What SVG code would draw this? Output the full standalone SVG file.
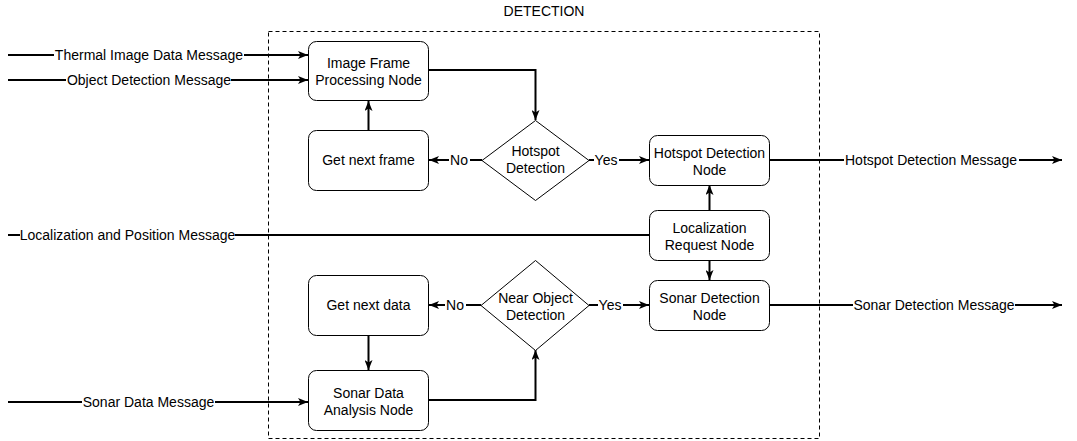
<svg xmlns="http://www.w3.org/2000/svg" width="1077" height="441" viewBox="0 0 1077 441">
<style>
text{font-family:"Liberation Sans",Arial,sans-serif;font-size:14px;fill:#000;text-anchor:middle}
.node{fill:#fff;stroke:#000;stroke-width:1}
.edge{fill:none;stroke:#000;stroke-width:2}
.lbl{fill:#fff;stroke:none}
</style>
<defs>
<marker id="arr" viewBox="0 0 10 8" refX="10" refY="4" markerWidth="10" markerHeight="8" markerUnits="userSpaceOnUse" orient="auto">
<path d="M0,0 L10,4 L0,8 L2.5,4 z" fill="#000"/>
</marker>
</defs>
<rect width="1077" height="441" fill="#fff"/>
<g id="container">
<rect x="268.5" y="31.5" width="551" height="407" fill="none" stroke="#000" stroke-width="1" stroke-dasharray="4,3"/>
<text x="544" y="16">DETECTION</text>
</g>
<g id="connectors">
<path class="edge" d="M8,55 L308,55" marker-end="url(#arr)"/>
<rect class="lbl" x="54" y="47" width="190" height="16"/>
<text x="149" y="60">Thermal Image Data Message</text>
<path class="edge" d="M8,80 L308,80" marker-end="url(#arr)"/>
<rect class="lbl" x="66" y="72" width="165" height="16"/>
<text x="149" y="85">Object Detection Message</text>
<path class="edge" d="M429,70 L535.5,70 L535.5,120" marker-end="url(#arr)"/>
<path class="edge" d="M368.5,130 L368.5,101" marker-end="url(#arr)"/>
<path class="edge" d="M482,160 L429,160" marker-end="url(#arr)"/>
<rect class="lbl" x="449" y="152" width="21" height="16"/>
<text x="459" y="165">No</text>
<path class="edge" d="M589,160 L649,160" marker-end="url(#arr)"/>
<rect class="lbl" x="594" y="152" width="25" height="16"/>
<text x="606" y="165">Yes</text>
<path class="edge" d="M770,160 L1062,160" marker-end="url(#arr)"/>
<rect class="lbl" x="844" y="152" width="175" height="16"/>
<text x="931" y="165">Hotspot Detection Message</text>
<path class="edge" d="M8,235 L649,235"/>
<rect class="lbl" x="20" y="227" width="215" height="16"/>
<text x="127.5" y="240">Localization and Position Message</text>
<path class="edge" d="M709.5,210 L709.5,185" marker-end="url(#arr)"/>
<path class="edge" d="M709.5,260 L709.5,280" marker-end="url(#arr)"/>
<path class="edge" d="M481,305 L429,305" marker-end="url(#arr)"/>
<rect class="lbl" x="445" y="297" width="21" height="16"/>
<text x="455" y="310">No</text>
<path class="edge" d="M589,305 L649,305" marker-end="url(#arr)"/>
<rect class="lbl" x="598" y="297" width="25" height="16"/>
<text x="610" y="310">Yes</text>
<path class="edge" d="M770,305 L1062,305" marker-end="url(#arr)"/>
<rect class="lbl" x="853" y="297" width="162" height="16"/>
<text x="934" y="310">Sonar Detection Message</text>
<path class="edge" d="M368.5,335 L368.5,370" marker-end="url(#arr)"/>
<path class="edge" d="M8,402 L308,402" marker-end="url(#arr)"/>
<rect class="lbl" x="82" y="394" width="133" height="16"/>
<text x="148.5" y="407">Sonar Data Message</text>
<path class="edge" d="M429,400 L535.5,400 L535.5,350" marker-end="url(#arr)"/>
</g>
<g id="image-frame-processing">
<rect class="node" x="308.5" y="41.5" width="120" height="59" rx="8"/>
<text x="368.5" y="68">Image Frame</text>
<text x="368.5" y="85">Processing Node</text>
</g>
<g id="get-next-frame">
<rect class="node" x="308.5" y="130.5" width="120" height="60" rx="8"/>
<text x="368.5" y="165">Get next frame</text>
</g>
<g id="hotspot-decision">
<polygon class="node" points="535.5,120.5 589,160.5 535.5,200.5 482,160.5"/>
<text x="535.5" y="156">Hotspot</text>
<text x="535.5" y="173">Detection</text>
</g>
<g id="hotspot-detection-node">
<rect class="node" x="649.5" y="135.5" width="120" height="50" rx="8"/>
<text x="709.5" y="158">Hotspot Detection</text>
<text x="709.5" y="175">Node</text>
</g>
<g id="localization-request-node">
<rect class="node" x="649.5" y="210.5" width="120" height="50" rx="8"/>
<text x="709.5" y="233">Localization</text>
<text x="709.5" y="250">Request Node</text>
</g>
<g id="near-object-decision">
<polygon class="node" points="535.5,260.5 589,305.5 535.5,350.5 481,305.5"/>
<text x="535.5" y="303">Near Object</text>
<text x="535.5" y="320">Detection</text>
</g>
<g id="sonar-detection-node">
<rect class="node" x="649.5" y="280.5" width="120" height="50" rx="8"/>
<text x="709.5" y="303">Sonar Detection</text>
<text x="709.5" y="320">Node</text>
</g>
<g id="get-next-data">
<rect class="node" x="308.5" y="275.5" width="120" height="60" rx="8"/>
<text x="368.5" y="310">Get next data</text>
</g>
<g id="sonar-data-analysis-node">
<rect class="node" x="308.5" y="370.5" width="120" height="60" rx="8"/>
<text x="368.5" y="398">Sonar Data</text>
<text x="368.5" y="415">Analysis Node</text>
</g>
</svg>
